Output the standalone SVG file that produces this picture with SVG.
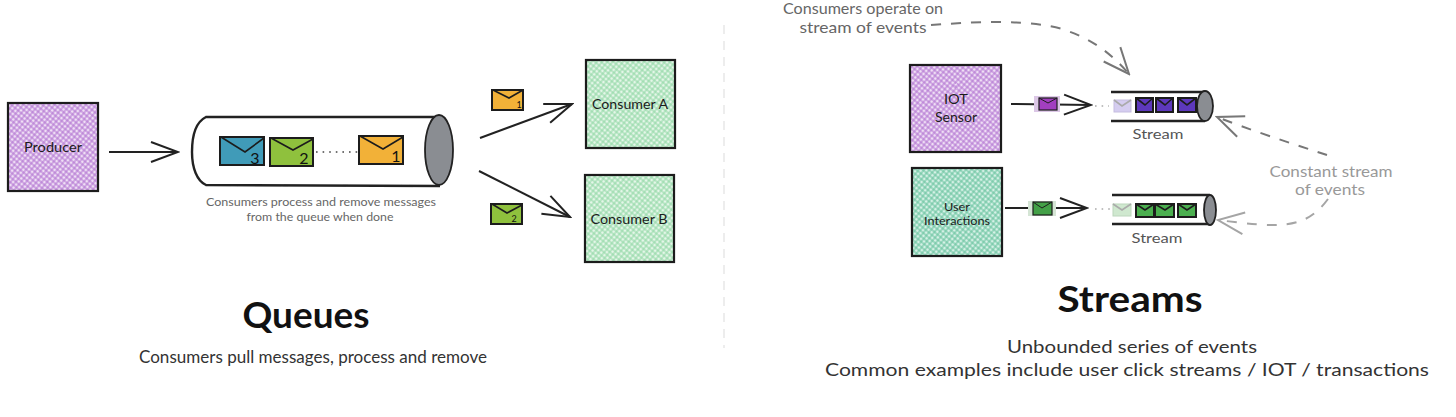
<svg xmlns="http://www.w3.org/2000/svg" width="1456" height="417" viewBox="0 0 1456 417">
<style>
text{font-family:"Lato","Open Sans",sans-serif;text-anchor:middle;fill:#1c1c1c}
.nl{font-size:14px}
.small{font-size:11.5px;fill:#666}
.note{font-size:15px;fill:#666}
.light{font-size:15px;fill:#999}
.sl{font-size:14px;fill:#555}
.title{font-size:37px;font-weight:700;fill:#111}
.sub{font-size:17px;fill:#333}
.box{stroke:#1f1f1f;stroke-width:2.2}
.pipe{fill:none;stroke:#222;stroke-width:2.4}
.cap{fill:#8a8d92;stroke:#222;stroke-width:1.8}
.dots{fill:none;stroke:#444;stroke-width:1.6;stroke-dasharray:1.6 5}
.arrow{fill:none;stroke:#222;stroke-width:2;marker-end:url(#head)}
.dash{fill:none;stroke:#777;stroke-width:2;stroke-dasharray:10 10;marker-end:url(#headGray)}
.dashL{fill:none;stroke:#a5a5a5;stroke-width:2;stroke-dasharray:10 10;marker-end:url(#headLight)}
.env{stroke:#1d1d1d;stroke-width:2}
.num{font-size:16px;fill:#111}
.flap{fill:none;stroke:#1d1d1d;stroke-width:1.6}
</style>
<defs>
<filter id="sk" x="-5%" y="-5%" width="110%" height="110%"><feTurbulence type="fractalNoise" baseFrequency="0.03" numOctaves="2" seed="4"/><feDisplacementMap in="SourceGraphic" scale="1.2" xChannelSelector="R" yChannelSelector="G"/></filter>
<pattern id="hPurple" width="4" height="4" patternUnits="userSpaceOnUse" patternTransform="rotate(40)"><rect width="4" height="4" fill="#efdff5"/><path d="M0 1H4M1 0V4" stroke="#b06fd0" stroke-width="1"/></pattern>
<pattern id="hGreen" width="4" height="4" patternUnits="userSpaceOnUse" patternTransform="rotate(40)"><rect width="4" height="4" fill="#e4f6e8"/><path d="M0 1H4M1 0V4" stroke="#8ed6a3" stroke-width="1"/></pattern>
<pattern id="hTeal" width="4" height="4" patternUnits="userSpaceOnUse" patternTransform="rotate(40)"><rect width="4" height="4" fill="#d5f1e6"/><path d="M0 1H4M1 0V4" stroke="#62c09b" stroke-width="1"/></pattern>
<marker id="head" markerUnits="userSpaceOnUse" markerWidth="32" markerHeight="26" viewBox="0 0 32 26" refX="30" refY="13" orient="auto"><path d="M3 3L30 13L3 23" fill="none" stroke="#222" stroke-width="2"/></marker>
<marker id="headGray" markerUnits="userSpaceOnUse" markerWidth="32" markerHeight="32" viewBox="0 0 32 32" refX="30" refY="16" orient="auto"><path d="M4 5L30 16L4 27" fill="none" stroke="#777" stroke-width="2"/></marker>
<marker id="headLight" markerUnits="userSpaceOnUse" markerWidth="32" markerHeight="32" viewBox="0 0 32 32" refX="30" refY="16" orient="auto"><path d="M4 5L30 16L4 27" fill="none" stroke="#a5a5a5" stroke-width="2"/></marker>
</defs>
<rect width="1456" height="417" fill="#fff"/>
<path d="M724 25V348" stroke="#e2e2e2" stroke-width="1.2" stroke-dasharray="9 7" fill="none"/>

<g id="connectors">
<path class="arrow" d="M109 152H178"/>
<path class="arrow" d="M480 138L572 104"/>
<path class="arrow" d="M479 171L570 217"/>
<path class="arrow" d="M1011 104L1091 105"/>
<path class="arrow" d="M1005 208H1087"/>
<path class="dash" d="M931 25C985 21 1030 20 1062 29C1090 38 1110 52 1129 74"/>
<path class="dash" d="M1327 155C1290 143 1250 130 1217 117"/>
<path class="dashL" d="M1328 199C1305 230 1280 228 1218 220"/>
</g>

<g id="producer"><rect class="box" x="8" y="103" width="90" height="88" fill="url(#hPurple)" filter="url(#sk)"/><text class="nl" x="53" y="152" textLength="58" lengthAdjust="spacingAndGlyphs">Producer</text></g>

<g id="queue">
<g filter="url(#sk)">
<path class="pipe" d="M440 117H206C196 122 192 136 192 152C192 168 197 181 206 185L440 186"/>
<ellipse class="cap" cx="439" cy="150" rx="14" ry="35"/>
<path class="dots" d="M316 152H358"/>
<rect class="env" x="220" y="137" width="44" height="28" fill="#3f9bb8"/><path class="flap" d="M221 137L245 152L264 138"/>
<rect class="env" x="270" y="138" width="43" height="28" fill="#8fc13e"/><path class="flap" d="M271 138L293 150L313 139"/>
<rect class="env" x="359" y="136" width="44" height="28" fill="#f2b138"/><path class="flap" d="M360 136L383 149L403 137"/>
</g>
<text class="num" x="255" y="164">3</text><text class="num" x="304" y="164">2</text><text class="num" x="396" y="162">1</text>
<text class="small" x="321" y="206" textLength="230" lengthAdjust="spacingAndGlyphs">Consumers process and remove messages</text>
<text class="small" x="320" y="221" textLength="147" lengthAdjust="spacingAndGlyphs">from the queue when done</text>
</g>

<g id="message-a"><g filter="url(#sk)"><rect class="env" x="492" y="90" width="31" height="20" fill="#f2b138"/><path class="flap" d="M493 90L509 98L523 90"/></g><text class="num" style="font-size:9px" x="519" y="108">1</text></g>
<g id="message-b"><g filter="url(#sk)"><rect class="env" x="491" y="204" width="31" height="20" fill="#8fc13e"/><path class="flap" d="M492 204L507 213L522 205"/></g><text class="num" style="font-size:9px" x="514" y="222">2</text></g>

<g id="consumer-a"><rect class="box" x="586" y="60" width="89" height="88" fill="url(#hGreen)" filter="url(#sk)"/><text class="nl" x="630" y="109" textLength="76" lengthAdjust="spacingAndGlyphs">Consumer A</text></g>
<g id="consumer-b"><rect class="box" x="585" y="175" width="89" height="87" fill="url(#hGreen)" filter="url(#sk)"/><text class="nl" x="629" y="224" textLength="77" lengthAdjust="spacingAndGlyphs">Consumer B</text></g>

<g id="iot-sensor"><rect class="box" x="910" y="65" width="91" height="87" fill="url(#hPurple)" filter="url(#sk)"/><text class="nl" x="956" y="104" textLength="24" lengthAdjust="spacingAndGlyphs">IOT</text><text class="nl" x="956" y="122" textLength="42" lengthAdjust="spacingAndGlyphs">Sensor</text></g>
<g id="user-interactions"><rect class="box" x="912" y="168" width="90" height="88" fill="url(#hTeal)" filter="url(#sk)"/><text class="nl" style="font-size:12px" x="957" y="211" textLength="26" lengthAdjust="spacingAndGlyphs">User</text><text class="nl" style="font-size:12px" x="957" y="225" textLength="66" lengthAdjust="spacingAndGlyphs">Interactions</text></g>

<g id="event-purple"><rect x="1034" y="96" width="26" height="16" fill="#dcc7e6"/><rect class="env" style="stroke-width:1.2" x="1039" y="98" width="18" height="12" fill="#a23fc0"/><path class="flap" style="stroke-width:1" d="M1039 98L1048 103L1057 98"/></g>
<g id="event-green"><rect x="1028" y="201" width="28" height="15" fill="#d5e5d5"/><rect class="env" style="stroke-width:1.2" x="1033" y="202" width="19" height="13" fill="#43a047"/><path class="flap" style="stroke-width:1" d="M1033 202L1042 208L1052 202"/></g>

<g id="stream-top">
<g filter="url(#sk)">
<path class="pipe" d="M1111 92H1205M1111 121H1205"/>
<ellipse class="cap" cx="1205" cy="106" rx="8" ry="15"/>
<path class="dots" style="stroke:#aaa" d="M1095 106H1109"/>
<rect x="1114" y="100" width="17" height="12" fill="#d5cdf0" stroke="#c5bde0"/><path class="flap" style="stroke:#aaa" d="M1114 100L1122 106L1131 100"/>
<rect class="env" x="1136" y="98" width="17" height="14" fill="#5d38bd"/><path class="flap" d="M1136 98L1145 105L1153 98"/>
<rect class="env" x="1156" y="98" width="17" height="14" fill="#5d38bd"/><path class="flap" d="M1156 98L1165 105L1173 98"/>
<rect class="env" x="1178" y="98" width="18" height="14" fill="#5d38bd"/><path class="flap" d="M1178 98L1187 105L1196 98"/>
</g>
<text class="sl" x="1158" y="139" textLength="51" lengthAdjust="spacingAndGlyphs">Stream</text>
</g>

<g id="stream-bottom">
<g filter="url(#sk)">
<path class="pipe" d="M1112 195H1210M1112 224H1210"/>
<ellipse class="cap" cx="1210" cy="210" rx="6" ry="15"/>
<path class="dots" style="stroke:#aaa" d="M1095 209H1110"/>
<rect x="1113" y="204" width="18" height="12" fill="#cfe8cf" stroke="#bcd6bc"/><path class="flap" style="stroke:#aaa" d="M1113 204L1122 210L1131 204"/>
<rect class="env" x="1136" y="204" width="18" height="13" fill="#4caf50"/><path class="flap" d="M1136 204L1145 210L1154 204"/>
<rect class="env" x="1155" y="204" width="19" height="13" fill="#4caf50"/><path class="flap" d="M1155 204L1165 210L1174 204"/>
<rect class="env" x="1178" y="204" width="18" height="13" fill="#4caf50"/><path class="flap" d="M1178 204L1187 210L1196 204"/>
</g>
<text class="sl" x="1157" y="243" textLength="51" lengthAdjust="spacingAndGlyphs">Stream</text>
</g>

<g id="annotations">
<text class="note" x="863" y="14" textLength="160" lengthAdjust="spacingAndGlyphs">Consumers operate on</text>
<text class="note" x="863" y="33" textLength="127" lengthAdjust="spacingAndGlyphs">stream of events</text>
<text class="light" x="1331" y="177" textLength="123" lengthAdjust="spacingAndGlyphs">Constant stream</text>
<text class="light" x="1330" y="195" textLength="70" lengthAdjust="spacingAndGlyphs">of events</text>
</g>

<g id="queues-caption">
<text class="title" x="306" y="328" textLength="127" lengthAdjust="spacingAndGlyphs">Queues</text>
<text class="sub" x="313" y="363" textLength="348" lengthAdjust="spacingAndGlyphs">Consumers pull messages, process and remove</text>
</g>
<g id="streams-caption">
<text class="title" x="1130" y="312" textLength="145" lengthAdjust="spacingAndGlyphs">Streams</text>
<text class="sub" x="1132" y="353" textLength="250" lengthAdjust="spacingAndGlyphs">Unbounded series of events</text>
<text class="sub" x="1127" y="376" textLength="604" lengthAdjust="spacingAndGlyphs">Common examples include user click streams / IOT / transactions</text>
</g>
</svg>
